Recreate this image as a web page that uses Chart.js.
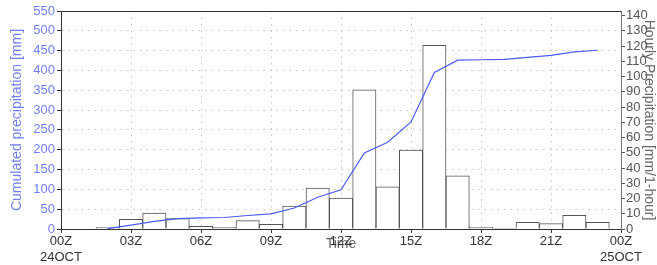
<!DOCTYPE html>
<html>
<head>
<meta charset="utf-8">
<script src="https://cdn.jsdelivr.net/npm/chart.js@4"></script>
<style>
  body { margin: 0; background: #fff; }
  canvas { display: block; }
</style>
</head>
<body>
<canvas id="precip-chart" width="657" height="265"></canvas>
<script>
// hourly bars (right axis, mm/1-hour)
const barHours = [2, 3, 4, 5, 6, 7, 8, 9, 10, 11, 12, 13, 14, 15, 16, 17, 18, 19, 20, 21, 22, 23];
const hourlyPrecip = [1.1, 6.4, 10.4, 6.8, 1.8, 1.1, 5.5, 3.1, 15, 26.9, 20.3, 91.3, 27.7, 51.7, 120.4, 34.8, 1.1, 0.4, 4.4, 3.5, 9, 4.4];

// cumulated line (left axis, mm)
const lineHours = [2, 3, 4, 5, 6, 7, 8, 9, 10, 11, 12, 13, 14, 15, 16, 17, 18, 19, 20, 21, 22, 23];
const cumPrecip = [1, 10, 19, 26, 28, 29, 34, 38, 53, 80, 99, 192, 219, 270, 395, 426, 427, 428, 433, 438, 447, 451];

// x tick labels every 3 hours
const tickHours = [0, 3, 6, 9, 12, 15, 18, 21, 24];
const tickLabels = [['00Z', '24OCT'], '03Z', '06Z', '09Z', '12Z', '15Z', '18Z', '21Z', ['00Z', '25OCT']];

const font = { family: 'Liberation Sans', size: 13 };
const titleFont = { family: 'Liberation Sans', size: 14 };
const gridDash = [1.5, 5];

const frameTop = {
    id: 'frameTop',
    afterDraw(chart) {
        const a = chart.chartArea, c = chart.ctx;
        c.save();
        c.strokeStyle = '#333';
        c.lineWidth = 1;
        c.beginPath();
        c.moveTo(a.left, a.top + 0.5);
        c.lineTo(a.right, a.top + 0.5);
        c.stroke();
        c.restore();
    }
};

var ctx = document.getElementById('precip-chart');

const precip_chart = new Chart(ctx, {
    type: 'bar',
    data: {
        datasets: [{
            type: 'line',
            label: 'cumulated',
            data: lineHours.map((h, i) => ({ x: h, y: cumPrecip[i] })),
            yAxisID: 'y',
            borderColor: '#4a5cff',
            borderWidth: 1.2,
            pointRadius: 0,
            tension: 0,
            order: 0
        }, {
            label: 'hourly',
            data: barHours.map((h, i) => ({ x: h, y: hourlyPrecip[i] })),
            yAxisID: 'y1',
            backgroundColor: '#ffffff',
            borderColor: '#555',
            borderWidth: 1,
            barPercentage: 1,
            categoryPercentage: 1,
            order: 1
        }]
    },
    options: {
        responsive: false,
        animation: false,
        layout: { padding: { top: 11, left: 0, right: 0, bottom: 0 } },
        plugins: { legend: { display: false }, tooltip: { enabled: false } },
        scales: {
            x: {
                type: 'linear',
                min: 0,
                max: 24,
                offset: false,
                afterFit: s => { s.height = 36; },
                afterBuildTicks: s => { s.ticks = tickHours.map(v => ({ value: v })); },
                ticks: {
                    autoSkip: false,
                    maxRotation: 0,
                    padding: 1,
                    color: '#333',
                    font: font,
                    callback: v => tickLabels[tickHours.indexOf(v)]
                },
                grid: { offset: false, color: '#c4c4c4', tickColor: '#333', tickLength: 4 },
                border: { color: '#333', dash: gridDash },
                title: { display: true, text: 'Time', color: '#666', font: titleFont, padding: { top: 0, bottom: 12 } }
            },
            y: {
                position: 'left',
                min: 0,
                max: 550,
                afterFit: s => { s.width = 61; },
                ticks: { stepSize: 50, autoSkip: false, color: '#6f80ff', font: font, padding: 2 },
                grid: { color: '#c4c4c4', tickColor: '#333', tickLength: 4 },
                border: { color: '#333', dash: gridDash },
                title: { display: true, text: 'Cumulated precipitation [mm]', color: '#6f80ff', font: titleFont, padding: { top: 9, bottom: 0 } }
            },
            y1: {
                position: 'right',
                min: 0,
                max: 143,
                afterFit: s => { s.width = 36; },
                ticks: { stepSize: 10, autoSkip: false, includeBounds: false, color: '#555', font: font, padding: 1 },
                grid: { drawOnChartArea: false, tickColor: '#555', tickLength: 4 },
                border: { color: '#777' },
                title: { display: true, text: 'Hourly Precipitation [mm/1-hour]', color: '#666', font: titleFont, padding: 0 }
            }
        }
    },
    plugins: [frameTop]
});
</script>
</body>
</html>
